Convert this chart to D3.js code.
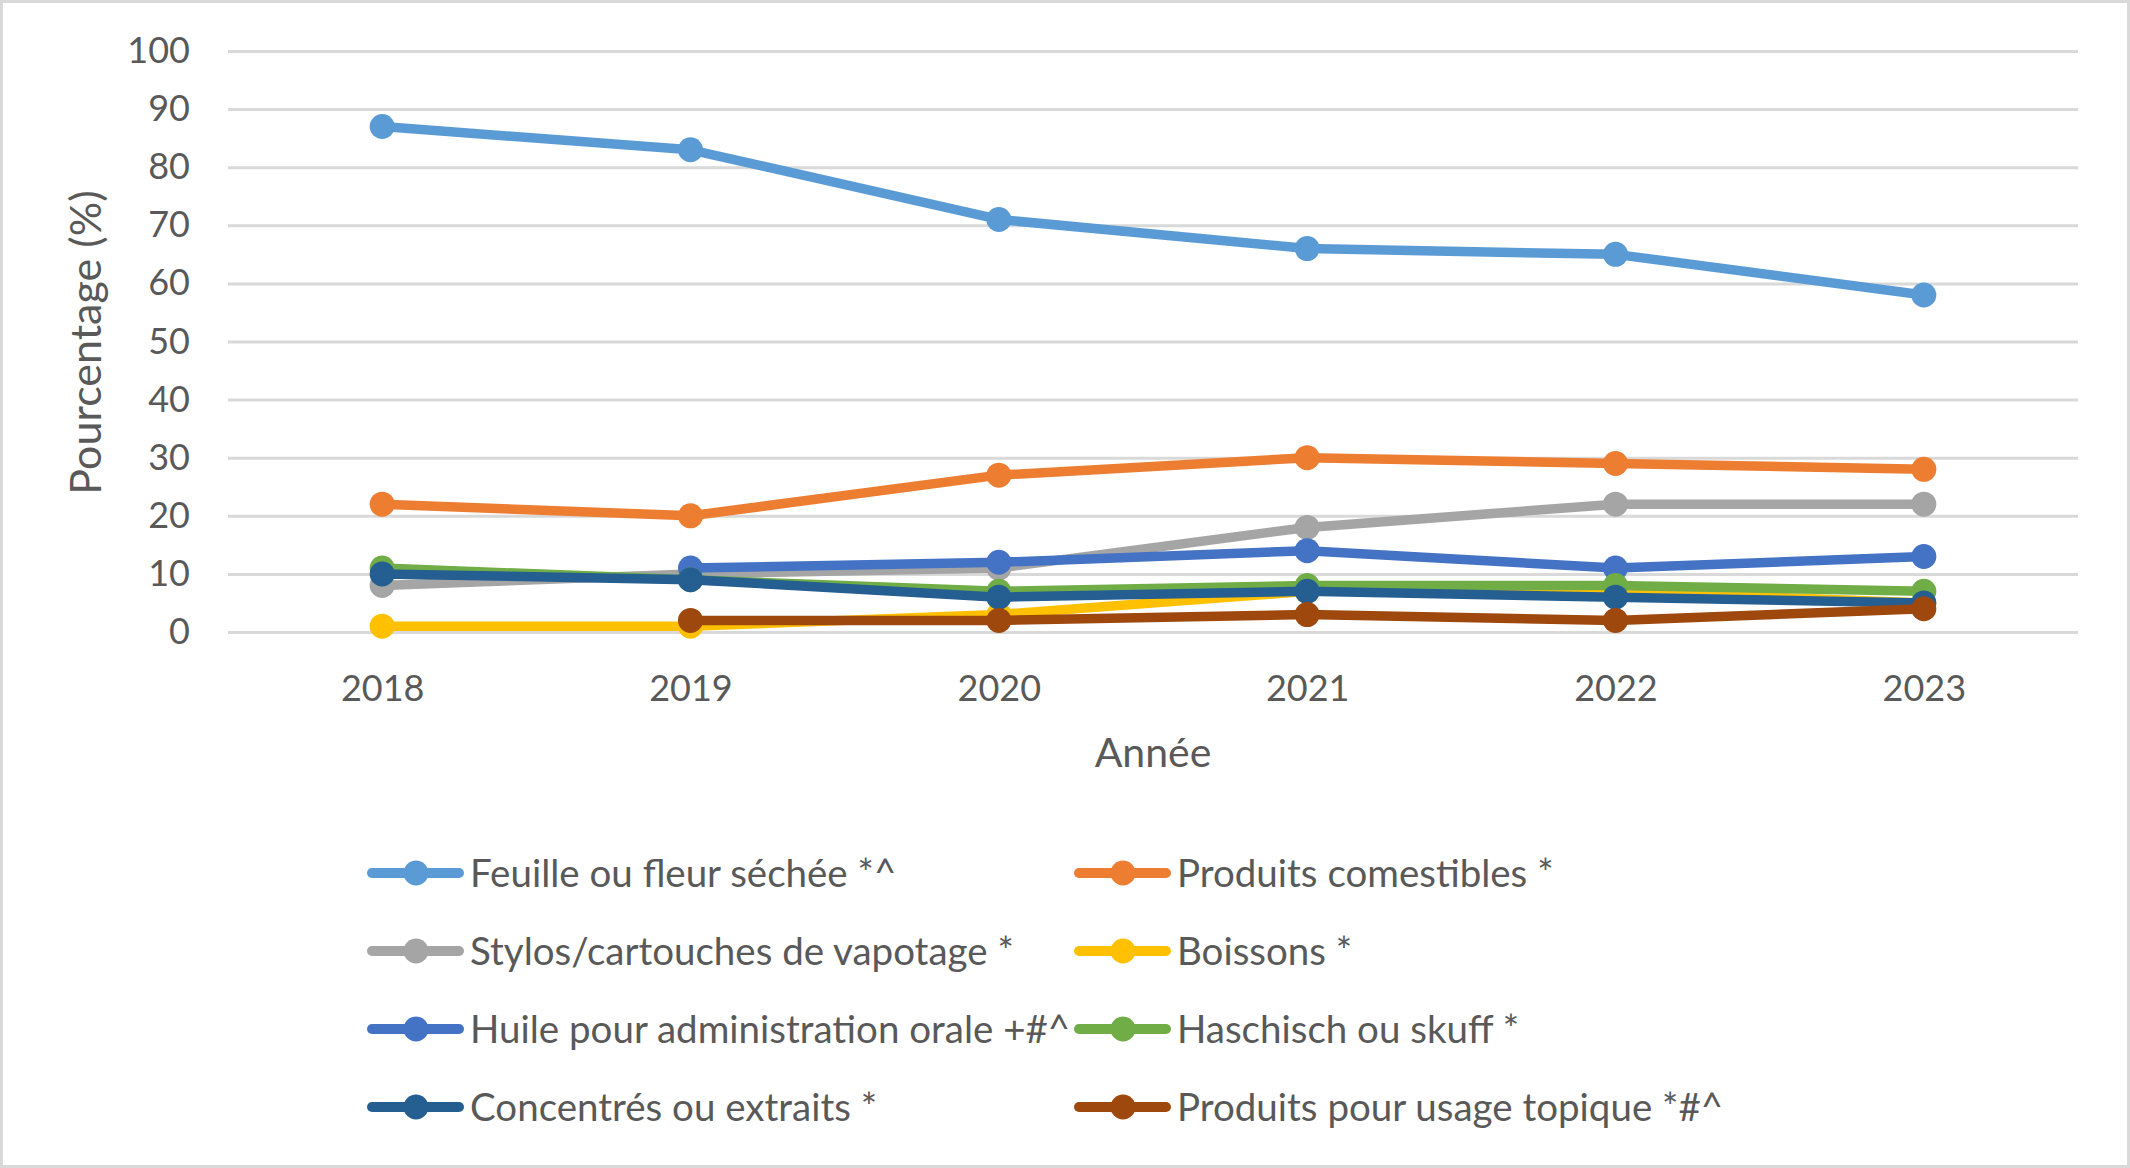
<!DOCTYPE html>
<html><head><meta charset="utf-8">
<script src="https://cdn.jsdelivr.net/npm/d3@7"></script>
<style>
html,body{margin:0;padding:0;background:#fff;}
svg{display:block;font-family:Lato, "Open Sans", sans-serif;}
</style></head>
<body>
<svg id="chart" width="2130" height="1168"></svg>
<script>
const years = ["2018","2019","2020","2021","2022","2023"];
const yTicks = [0,10,20,30,40,50,60,70,80,90,100];
const seriesNames = [
  "Feuille ou fleur séchée *^",
  "Produits comestibles *",
  "Stylos/cartouches de vapotage *",
  "Boissons *",
  "Huile pour administration orale +#^",
  "Haschisch ou skuff *",
  "Concentrés ou extraits *",
  "Produits pour usage topique *#^"
];
const seriesColors = ["#5B9BD5","#ED7D31","#A5A5A5","#FFC000","#4472C4","#70AD47","#255E91","#9E480E"];
const feuille     = [87, 83, 71, 66, 65, 58];
const comestibles = [22, 20, 27, 30, 29, 28];
const stylos      = [8, 10, 11, 18, 22, 22];
const boissons    = [1, 1, 3, 7, 7, 5];
const huile       = [null, 11, 12, 14, 11, 13];
const haschisch   = [11, 9, 7, 8, 8, 7];
const concentres  = [10, 9, 6, 7, 6, 5];
const topiques    = [null, 2, 2, 3, 2, 4];
const seriesValues = [feuille, comestibles, stylos, boissons, huile, haschisch, concentres, topiques];
const yTitle = "Pourcentage (%)";
const xTitle = "Année";

(function(){
const svg = d3.select("#chart");
const textColor = "#595959";
const pLeft = 228, pRight = 2078, pTop = 51, pBottom = 632;

svg.append("rect").attr("x",1.5).attr("y",1.5).attr("width",2127).attr("height",1165)
  .attr("fill","#fff").attr("stroke","#D9D9D9").attr("stroke-width",3);

const x = d3.scalePoint().domain(years).range([pLeft, pRight]).padding(0.5);
const y = d3.scaleLinear().domain([0,100]).range([pBottom, pTop]);

const yAxis = svg.append("g").attr("transform",`translate(${pLeft},0)`)
  .call(d3.axisLeft(y).tickValues(yTicks).tickSize(-(pRight-pLeft)).tickPadding(38));
yAxis.select(".domain").remove();
yAxis.selectAll(".tick line").attr("stroke","#D9D9D9").attr("stroke-width",3);
yAxis.selectAll(".tick text").attr("fill",textColor).attr("font-size",36)
  .attr("font-family","Lato, 'Open Sans', sans-serif");

const xAxis = svg.append("g").attr("transform",`translate(0,${pBottom})`)
  .call(d3.axisBottom(x).tickSize(0).tickPadding(43));
xAxis.select(".domain").remove();
xAxis.selectAll(".tick text").attr("fill",textColor).attr("font-size",36)
  .attr("font-family","Lato, 'Open Sans', sans-serif");

svg.append("text").attr("x",(pLeft+pRight)/2).attr("y",757).attr("text-anchor","middle")
  .attr("dominant-baseline","middle").attr("fill",textColor).attr("font-size",41).text(xTitle);
svg.append("text").attr("transform",`translate(90,${(pTop+pBottom)/2 + 1}) rotate(-90)`)
  .attr("text-anchor","middle").attr("dominant-baseline","middle")
  .attr("fill",textColor).attr("font-size",43).text(yTitle);

const line = d3.line().defined(d => d.v !== null).x(d => x(d.yr)).y(d => y(d.v));
seriesValues.forEach((vals, i) => {
  const pts = years.map((yr, j) => ({yr, v: vals[j]}));
  const g = svg.append("g");
  g.append("path").datum(pts).attr("d", line).attr("fill","none")
    .attr("stroke", seriesColors[i]).attr("stroke-width",9.5).attr("stroke-linejoin","round").attr("stroke-linecap","round");
  g.selectAll("circle").data(pts.filter(d => d.v !== null)).join("circle")
    .attr("cx", d => x(d.yr)).attr("cy", d => y(d.v)).attr("r",12.5).attr("fill", seriesColors[i]);
});

const legCols = [368, 1075];
const legRows = [873, 951, 1029, 1107];
seriesNames.forEach((name, i) => {
  const lx = legCols[i % 2], ly = legRows[Math.floor(i / 2)];
  const g = svg.append("g");
  g.append("line").attr("x1", lx+4).attr("x2", lx+91).attr("y1", ly).attr("y2", ly)
    .attr("stroke", seriesColors[i]).attr("stroke-width",10).attr("stroke-linecap","round");
  g.append("circle").attr("cx", lx+48).attr("cy", ly).attr("r",12.5).attr("fill", seriesColors[i]);
  g.append("text").attr("x", lx+102).attr("y", ly + 4).attr("dominant-baseline","middle")
    .attr("fill", textColor).attr("font-size",38.5).text(name);
});
})();
</script>
</body></html>
